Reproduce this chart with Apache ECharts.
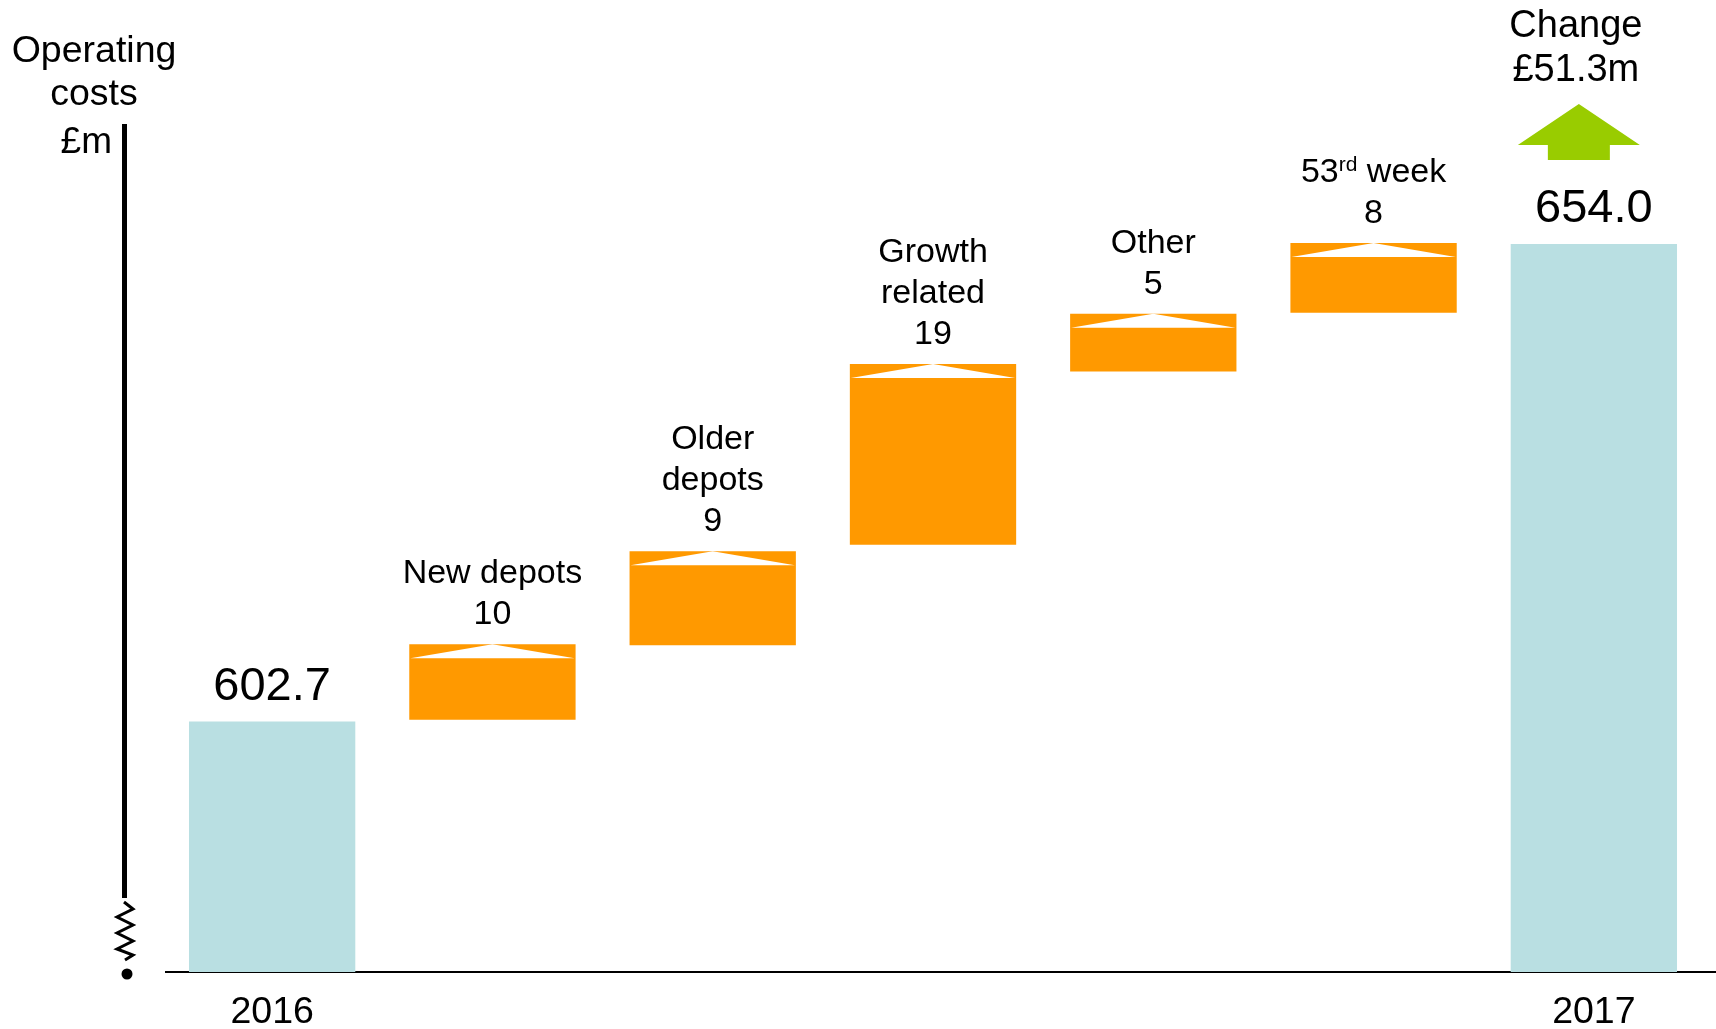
<!DOCTYPE html>
<html>
<head>
<meta charset="utf-8">
<script src="https://cdn.jsdelivr.net/npm/echarts@6/dist/echarts.min.js"></script>
<style>
  html, body { margin: 0; padding: 0; background: #fff; }
  #container { width: 1716px; height: 1029px; }
</style>
</head>
<body>
<div id="container"></div>
<script>
// values (£m)
const categories = ['2016', 'New depots', 'Older depots', 'Growth related', 'Other', '53rd week', '2017'];
const yMin = 575.8;
const yMax = 670;
// bar spans as drawn in the source (floating steps are hand placed, so read each edge)
const barLow = [yMin, 602.9, 610.9, 621.7, 640.3, 646.6, yMin];
const barHigh = [602.7, 611.0, 621.0, 641.1, 646.5, 654.1, 654.0];
const isTotal = [true, false, false, false, false, false, true];
const stepNames = ['', 'New depots', 'Older\ndepots', 'Growth\nrelated', 'Other', '53{sup|rd} week', ''];
const valueLabels = ['602.7', '10', '9', '19', '5', '8', '654.0'];
const changeText = 'Change\n£51.3m';

const font = 'Liberation Sans, Arial, sans-serif';
const teal = '#B9DFE2';
const orange = '#FF9900';
const green = '#99CC00';

var chart = echarts.init(document.getElementById('container'));

function renderItem(params, api) {
  const i = api.value(0);
  const top = api.coord([i, api.value(2)]);
  const bot = api.coord([i, api.value(1)]);
  const w = api.size([1, 0])[0] * 0.755;
  const x0 = top[0] - w / 2;
  const children = [
    {
      type: 'rect',
      shape: { x: x0, y: top[1], width: w, height: bot[1] - top[1] },
      style: { fill: isTotal[i] ? teal : orange },
    },
  ];
  if (isTotal[i]) {
    children.push({
      type: 'text',
      style: {
        text: valueLabels[i],
        x: top[0],
        y: top[1] - 11,
        align: 'center',
        verticalAlign: 'bottom',
        fontFamily: font,
        fontSize: 47,
        lineHeight: 47,
        fill: '#000',
      },
    });
  } else {
    // white "up" wedge at the top of each step
    children.push({
      type: 'polygon',
      shape: {
        points: [
          [x0 + 1, top[1] + 14],
          [top[0], top[1]],
          [x0 + w - 1, top[1] + 14],
        ],
      },
      style: { fill: '#fff' },
    });
    children.push({
      type: 'text',
      style: {
        text: stepNames[i] + '\n' + valueLabels[i],
        x: top[0],
        y: top[1] - 9,
        align: 'center',
        verticalAlign: 'bottom',
        fontFamily: font,
        fontSize: 34,
        lineHeight: 41,
        fill: '#000',
        rich: {
          sup: { fontFamily: font, fontSize: 21, lineHeight: 41, padding: [0, 0, 14, 0], fill: '#000' },
        },
      },
    });
  }
  return { type: 'group', children: children };
}

option = {
  animation: false,
  grid: { left: 162, right: 12, top: 95, bottom: 57, outerBoundsMode: 'none', containLabel: false },
  xAxis: {
    type: 'category',
    data: categories,
    axisLine: { show: false },
    axisTick: { show: false },
    axisLabel: {
      interval: 0,
      margin: 22,
      color: '#000',
      fontFamily: font,
      fontSize: 37.5,
      lineHeight: 37,
      formatter: (v, idx) => (isTotal[idx] ? v : ''),
    },
  },
  yAxis: { type: 'value', min: yMin, max: yMax, show: false },
  series: [
    {
      type: 'custom',
      renderItem: renderItem,
      clip: false,
      encode: { x: 0, y: [1, 2] },
      data: categories.map((c, i) => [i, barLow[i], barHigh[i]]),
    },
  ],
};

chart.setOption(option);

// decorations: baseline, broken y axis, titles, change arrow
const c2017 = chart.convertToPixel({ xAxisIndex: 0 }, 6);
const baseY = chart.convertToPixel({ yAxisIndex: 0 }, yMin);
const ax = c2017 - 15;
chart.setOption({
  graphic: [
    { type: 'line', shape: { x1: 165, y1: baseY, x2: 1716, y2: baseY }, style: { stroke: '#000', lineWidth: 2 } },
    { type: 'line', shape: { x1: 124.5, y1: 124, x2: 124.5, y2: 898 }, style: { stroke: '#000', lineWidth: 5 } },
    {
      type: 'polyline',
      shape: {
        points: [[124, 902], [133, 909], [117, 917], [133, 925], [117, 933], [133, 941], [117, 949], [133, 955], [125, 960]],
      },
      style: { stroke: '#000', lineWidth: 3, fill: null },
    },
    { type: 'circle', shape: { cx: 127, cy: 974, r: 5.5 }, style: { fill: '#000' } },
    {
      type: 'text',
      style: {
        text: 'Operating\ncosts', x: 94, y: 30, align: 'center', verticalAlign: 'top',
        fontFamily: font, fontSize: 37.5, lineHeight: 43, fill: '#000',
      },
    },
    {
      type: 'text',
      style: {
        text: '£m', x: 112, y: 121, align: 'right', verticalAlign: 'top',
        fontFamily: font, fontSize: 37, lineHeight: 43, fill: '#000',
      },
    },
    {
      type: 'text',
      style: {
        text: changeText, x: ax - 3, y: 5, align: 'center', verticalAlign: 'top',
        fontFamily: font, fontSize: 38, lineHeight: 44, fill: '#000',
      },
    },
    {
      type: 'polygon',
      shape: {
        points: [[ax, 104], [ax + 61, 145], [ax + 31, 145], [ax + 31, 160], [ax - 31, 160], [ax - 31, 145], [ax - 61, 145]],
      },
      style: { fill: green },
    },
  ],
});

window.onresize = function () {
  chart.resize();
};
</script>
</body>
</html>
